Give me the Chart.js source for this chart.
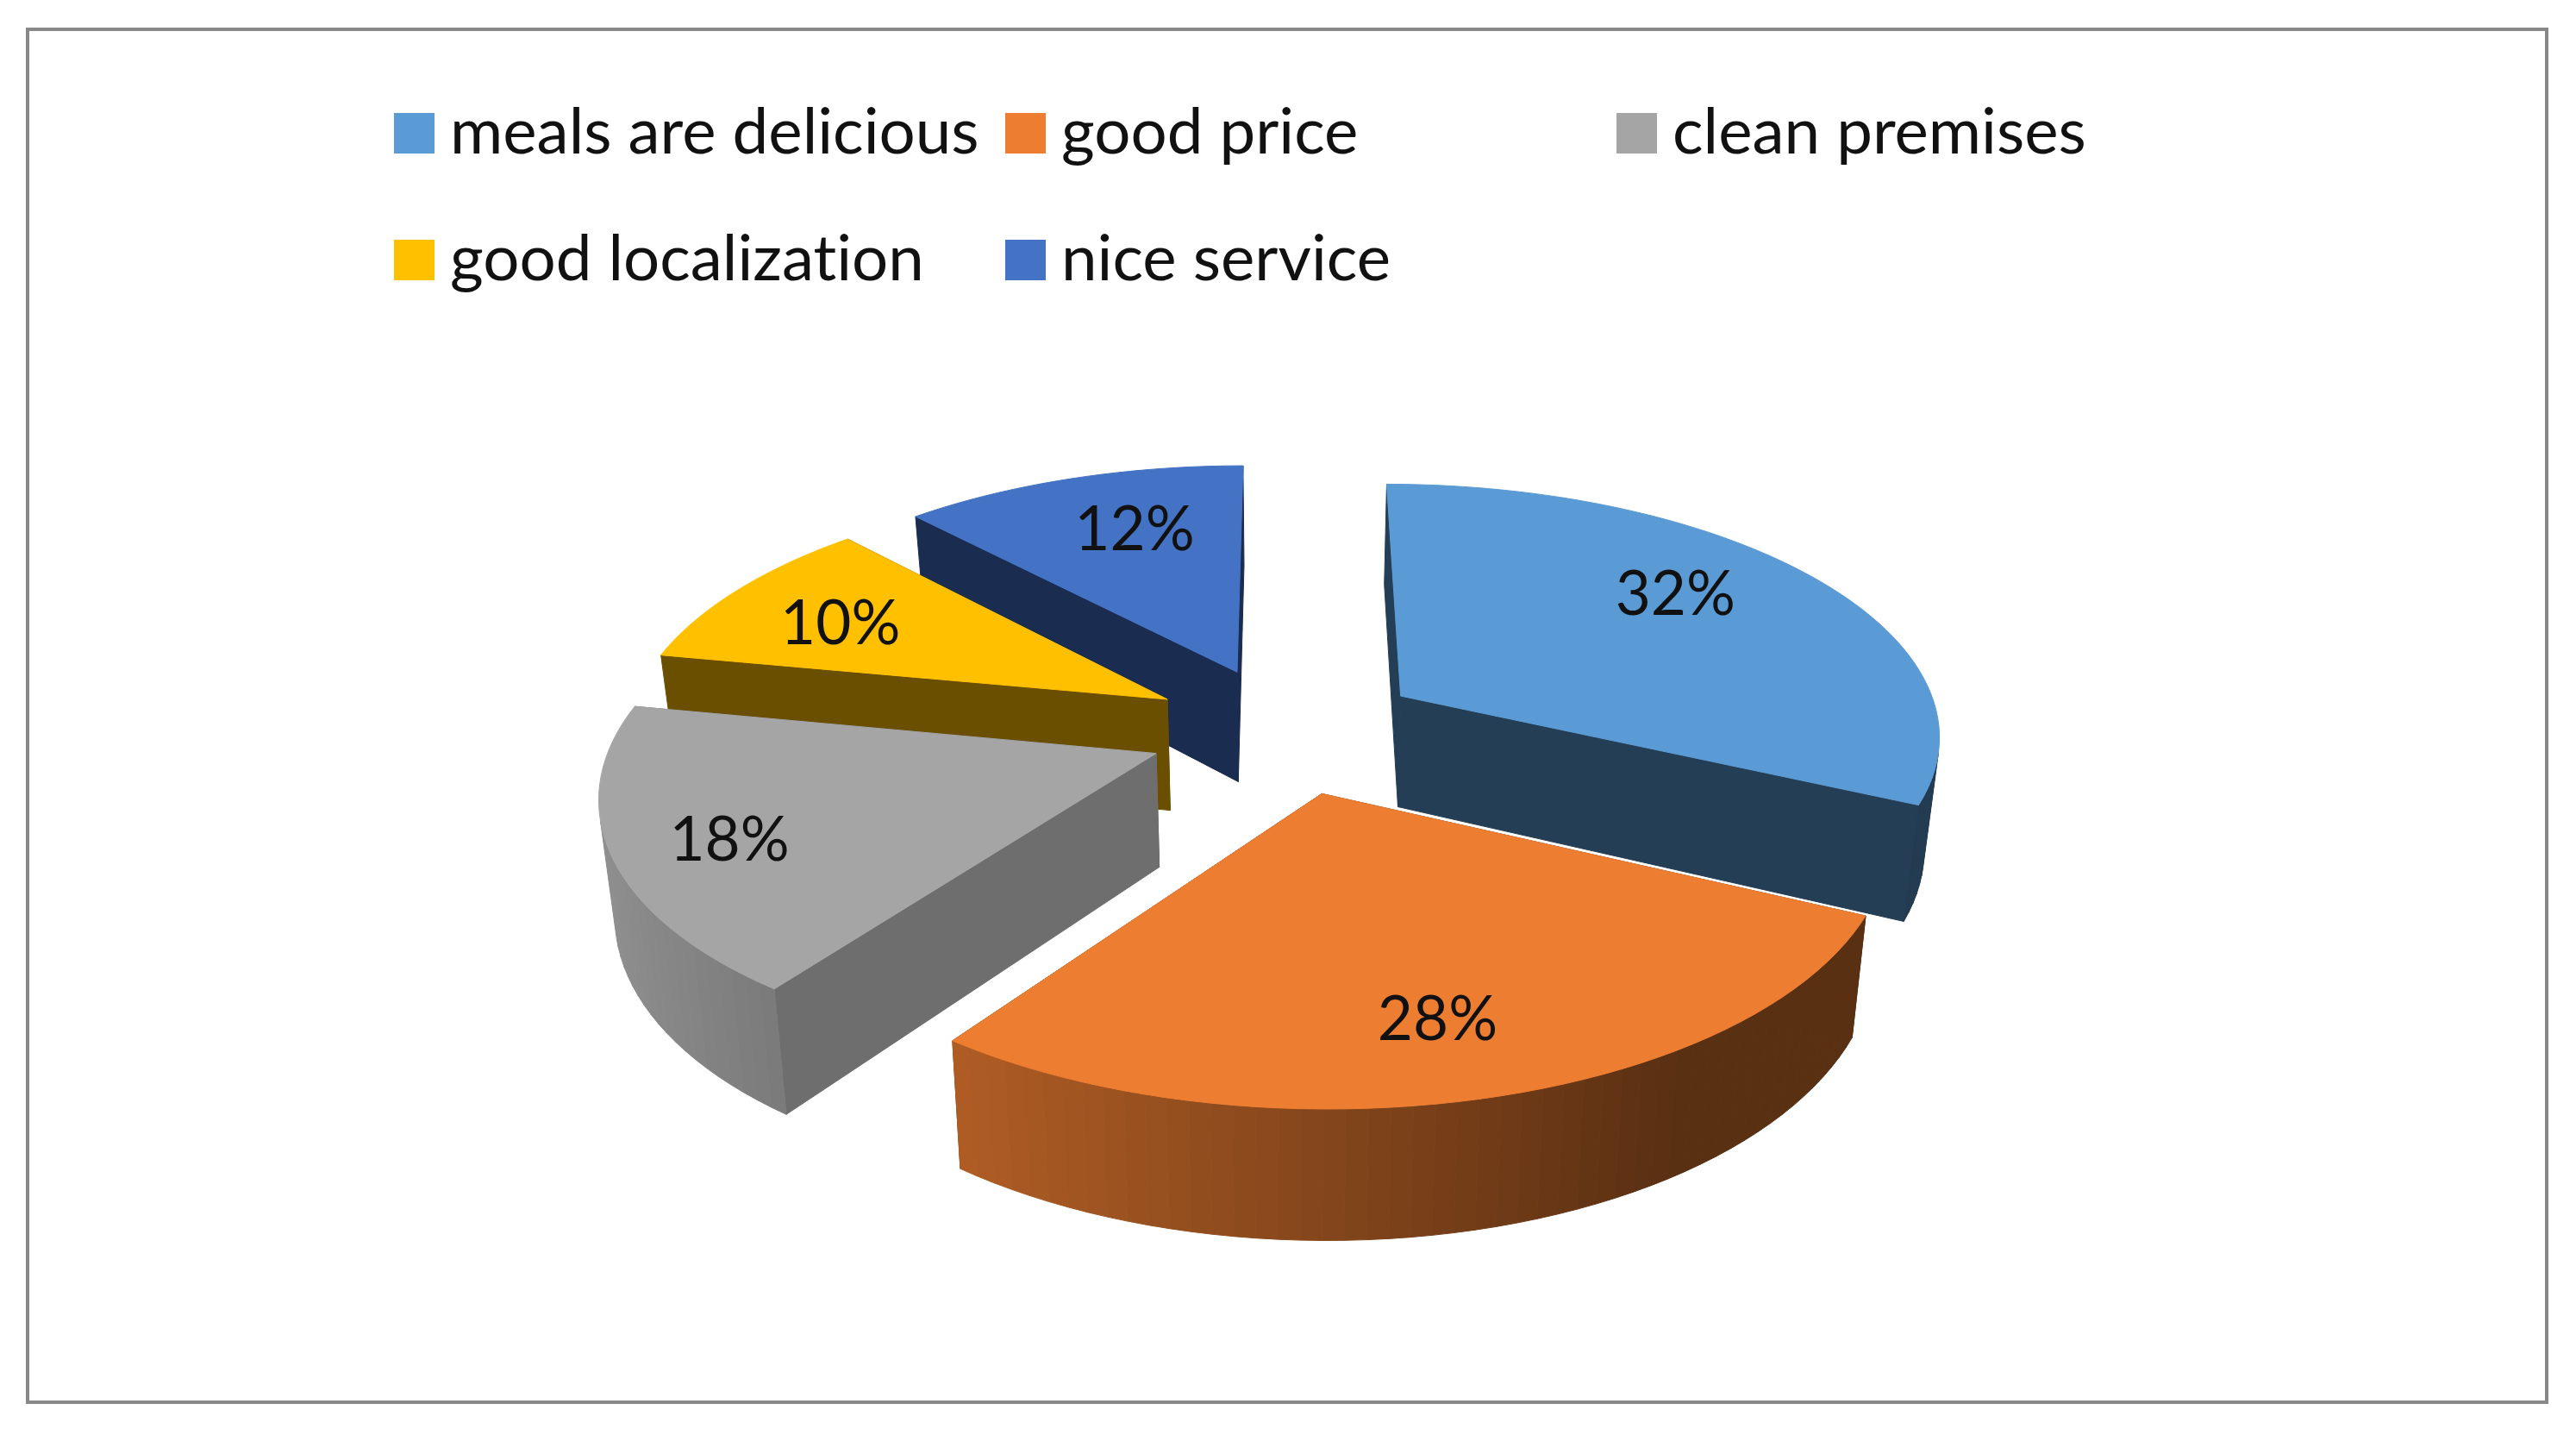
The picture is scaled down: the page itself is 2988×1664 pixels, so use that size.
<!DOCTYPE html>
<html>
<head>
<meta charset="utf-8">
<title>Pie</title>
<script src="https://cdn.jsdelivr.net/npm/chart.js@4/dist/chart.umd.js"></script>
<style>
  html, body { margin: 0; background: #fff; }
  #wrap { position: relative; width: 2988px; height: 1664px; overflow: hidden; }
  #frame { position: absolute; left: 30px; top: 32px; width: 2918px; height: 1588px; border: 4px solid #888; }
  #grafico { position: absolute; left: 0; top: 0; }
  #legenda { position: absolute; left: 457px; top: 107px; display: grid; grid-template-columns: repeat(3, 709px); grid-auto-rows: 147px;
    font: 74.5px Lato, sans-serif; font-variant-ligatures: none; color: #111; }
  #legenda div { display: flex; align-items: center; white-space: nowrap; height: 95px; }
  #legenda i { display: block; width: 47px; height: 47px; margin-right: 18px; }
  #legenda span { position: relative; top: -6px; }
</style>
</head>
<body>
<div id="wrap">
  <div id="frame"></div>
  <canvas id="grafico" width="2988" height="1664"></canvas>
  <div id="legenda"></div>
</div>
<script>
const categorias = ['meals are delicious', 'good price', 'clean premises', 'good localization', 'nice service'];
const valores = [32, 28, 18, 10, 12];
const cores = ['#5b9bd5', '#ed7d31', '#a5a5a5', '#ffc000', '#4472c4'];
const coresLaterais = ['#243e55', '#5c2f12', '#6e6e6e', '#6a4f00', '#1a2c4f'];
const rotuloRaio = [0.724, 0.763, 0.797, 0.735, 0.709];
const rotuloGiro = [-6.5, 1, -1.7, -1.6, 3.3];

// camera of the tilted pie, plane units are one pie radius
const CAM_X = 628;
const CAM_Y = 290.6;
const CAM_P = 0.1415;
const ALTURA_BASE = 127;
const ALTURA_FUGA = 0.05;
const ALTURA_Y0 = 777;
const ALTURA_X = 0.0235;

function projetar(cx, cy, x, y) {
  const w = 1 - CAM_P * y;
  return [cx + CAM_X * x / w, cy + CAM_Y * y / w];
}

function baixo(cx, p) {
  return [cx + (p[0] - cx) * (1 - ALTURA_X), p[1] + ALTURA_BASE + ALTURA_FUGA * (p[1] - ALTURA_Y0)];
}

function sombra(hex, f) {
  const n = parseInt(hex.slice(1), 16);
  const c = [n >> 16, (n >> 8) & 255, n & 255].map((v) => Math.round(v * f));
  return `rgb(${c[0]},${c[1]},${c[2]})`;
}

function caminho(ctx, pts, cor) {
  ctx.beginPath();
  pts.forEach((p, i) => (i ? ctx.lineTo(p[0], p[1]) : ctx.moveTo(p[0], p[1])));
  ctx.closePath();
  ctx.fillStyle = cor;
  ctx.fill();
  ctx.strokeStyle = cor;
  ctx.lineWidth = 1;
  ctx.stroke();
}

class Fatia3D extends Chart.ArcElement {
  static id = 'fatia3d';
  static defaults = Chart.ArcElement.defaults;

  draw(ctx) {
    const { x, y, startAngle, endAngle, outerRadius } = this.getProps(['x', 'y', 'startAngle', 'endAngle', 'outerRadius']);
    const i = this.indice;
    const cor = this.options.backgroundColor;
    const meio = (startAngle + endAngle) / 2;
    const e = this.options.offset / outerRadius;
    const ax = e * Math.cos(meio);
    const ay = e * Math.sin(meio);

    const ponto = (a) => projetar(x, y, ax + Math.cos(a), ay + Math.sin(a));
    const apice = projetar(x, y, ax, ay);
    const passos = Math.ceil((endAngle - startAngle) / (Math.PI / 90));
    const borda = [];
    for (let k = 0; k <= passos; k++) {
      const a = startAngle + (endAngle - startAngle) * k / passos;
      borda.push({ a, p: ponto(a) });
    }

    const inicio = borda[0].p;
    const fim = borda[passos].p;
    caminho(ctx, [apice, inicio, baixo(x, inicio), baixo(x, apice)], coresLaterais[i]);
    caminho(ctx, [apice, fim, baixo(x, fim), baixo(x, apice)], coresLaterais[i]);
    for (let k = 0; k < passos; k++) {
      const p1 = borda[k].p;
      const p2 = borda[k + 1].p;
      const b1 = baixo(x, p1);
      // skip the part of the rim that faces away from the camera
      if ((p2[0] - p1[0]) * (b1[1] - p1[1]) - (p2[1] - p1[1]) * (b1[0] - p1[0]) >= 0) continue;
      const f = Math.min(0.95, Math.max(0.38, 0.56 - 0.32 * Math.cos(borda[k].a)));
      caminho(ctx, [p1, p2, baixo(x, p2), b1], sombra(cor, f));
    }
    caminho(ctx, [apice, ...borda.map((b) => b.p)], cor);

    // percentage label
    const giro = meio + rotuloGiro[i] * Math.PI / 180;
    const r = rotuloRaio[i];
    const t = projetar(x, y, ax + r * Math.cos(giro), ay + r * Math.sin(giro));
    ctx.fillStyle = '#111';
    ctx.font = '71px Lato, sans-serif';
    ctx.textAlign = 'center';
    ctx.textBaseline = 'middle';
    ctx.fillText(valores[i] + '%', t[0], t[1] + 3);
  }
}

class Pizza3D extends Chart.PieController {
  static id = 'pizza3d';
  static defaults = { ...Chart.PieController.defaults, dataElementType: 'fatia3d' };
  static overrides = Chart.PieController.overrides;

  draw() {
    const fatias = this._cachedMeta.data;
    fatias.forEach((f, i) => { f.indice = i; });
    const meio = (f) => (f.startAngle + f.endAngle) / 2;
    // back slices first so the front ones cover them
    [...fatias]
      .sort((a, b) => Math.sin(meio(a)) - Math.sin(meio(b)))
      .forEach((f) => f.draw(this._ctx));
  }
}

Chart.register(Fatia3D, Pizza3D);

const grafico = new Chart(document.getElementById('grafico'), {
  type: 'pizza3d',
  data: {
    labels: categorias,
    datasets: [{ data: valores, backgroundColor: cores, offset: 185, borderWidth: 0, clip: false }],
  },
  options: {
    responsive: false,
    animation: false,
    layout: { padding: { top: 28, right: 4 } },
    plugins: { legend: { display: false }, tooltip: { enabled: false } },
  },
});

document.getElementById('legenda').innerHTML = grafico.data.labels
  .map((nome, i) => `<div><i style="background:${cores[i]}"></i><span>${nome}</span></div>`)
  .join('');
</script>
</body>
</html>
